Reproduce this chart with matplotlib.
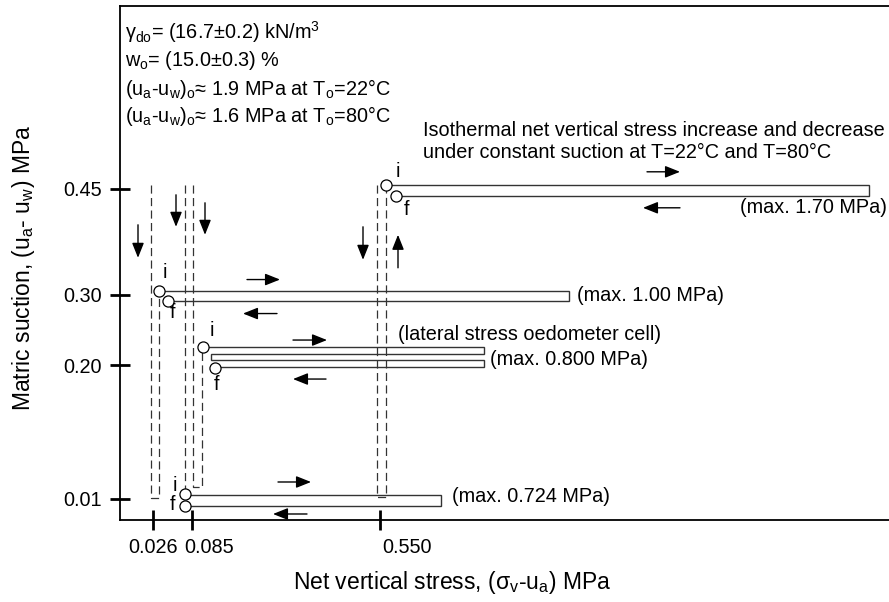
import numpy as np
import matplotlib
matplotlib.use('Agg')
import matplotlib.pyplot as plt
from matplotlib.transforms import ScaledTranslation

plt.rcParams['font.family'] = 'Liberation Sans'
plt.rcParams['mathtext.fontset'] = 'custom'
plt.rcParams['mathtext.rm'] = 'Liberation Sans'
plt.rcParams['mathtext.it'] = 'Liberation Sans:italic'

# axis ticks
x_ticks = [0.026, 0.085, 0.550]
x_tick_labels = ['0.026', '0.085', '0.550']
y_ticks = [0.01, 0.20, 0.30, 0.45]
y_tick_labels = ['0.01', '0.20', '0.30', '0.45']

# stress paths: suction level, start stress, max stress
suction = [0.45, 0.30, 0.20, 0.01]
start_stress = [0.550, 0.026, 0.085, 0.085]
max_stress = [1.70, 1.00, 0.800, 0.724]
max_labels = ['(max. 1.70 MPa)', '(max. 1.00 MPa)', '(max. 0.800 MPa)', '(max. 0.724 MPa)']

# schematic (not to scale) stress axis: stress -> pixels from left spine
knot_s = [-0.024, 0.026, 0.085, 0.550, 0.724, 0.800, 1.00, 1.70, 1.747]
knot_p = [0, 33, 72, 260, 321, 364, 449, 749, 769]

def fwd(s):
    return np.interp(s, knot_s, knot_p)

def inv(p):
    return np.interp(p, knot_p, knot_s)

fig = plt.figure(figsize=(8.89, 6.02), dpi=100)
ax = fig.add_axes([120/889, 1-520/602, 769/889, 514/602])
ax.set_xscale('function', functions=(fwd, inv))
ax.set_xlim(-0.024, 1.747)
ax.set_ylim(-0.0198, 0.7093)
ypp = (0.7093 + 0.0198) / 514.0

def pt(s, v, dx=0, dy=0):
    # offsets in pixels, dy positive downward
    return (inv(fwd(s) + dx), v - dy * ypp)

line_c = '#333333'
lw = 1.0

def path(pts):
    xs = [p[0] for p in pts]
    ys = [p[1] for p in pts]
    ax.plot(xs, ys, color=line_c, lw=lw, zorder=3, solid_joinstyle='miter')

def dpath(pts):
    xs = [p[0] for p in pts]
    ys = [p[1] for p in pts]
    ax.plot(xs, ys, color=line_c, lw=0.9, ls=(0, (6.5, 3.5)), zorder=2)

def circ(p):
    ax.plot(p[0], p[1], 'o', ms=8, mfc='white', mec='black', mew=0.9, zorder=5)

def arrow(a, b):
    ax.annotate('', xy=b, xytext=a,
                arrowprops=dict(arrowstyle='-|>,head_length=0.5,head_width=0.2',
                                color='black', lw=1.0, mutation_scale=18,
                                shrinkA=0, shrinkB=0))

fs = 14.3

def txt(p, s, ha='left', size=fs):
    ax.text(p[0], p[1], s, ha=ha, va='center', fontsize=size)

# level 0.45
s0, s1, v = start_stress[0], max_stress[0], suction[0]
path([pt(s0, v, 6, -4), pt(s1, v, 0, -4), pt(s1, v, 0, 7), pt(s0, v, 16, 7)])
circ(pt(s0, v, 6, -4)); circ(pt(s0, v, 16, 7))
txt(pt(s0, v, 18, -17), 'i', 'center'); txt(pt(s0, v, 26, 21), 'f', 'center')
arrow(pt(s0, v, 267, -17), pt(s0, v, 300, -17))
arrow(pt(s0, v, 300, 19), pt(s0, v, 263, 19))
txt(pt(s1, v, 18, 19), max_labels[0], 'right')

# level 0.30
s0, s1, v = start_stress[1], max_stress[1], suction[1]
path([pt(s0, v, 6, -4), pt(s1, v, 0, -4), pt(s1, v, 0, 6), pt(s0, v, 15, 6)])
circ(pt(s0, v, 6, -4)); circ(pt(s0, v, 15, 6))
txt(pt(s0, v, 12, -22), 'i', 'center'); txt(pt(s0, v, 19, 18), 'f', 'center')
arrow(pt(s0, v, 94, -15), pt(s0, v, 127, -15))
arrow(pt(s0, v, 124, 19), pt(s0, v, 90, 19))
txt(pt(s1, v, 8, 1), max_labels[1])

# level 0.20 (two cycles)
s0, s1, v = start_stress[2], max_stress[2], suction[2]
path([pt(s0, v, 11, -18), pt(s1, v, 0, -18), pt(s1, v, 0, -11), pt(s0, v, 19, -11),
      pt(s0, v, 19, -5), pt(s1, v, 0, -5), pt(s1, v, 0, 2), pt(s0, v, 23, 2)])
circ(pt(s0, v, 11, -18)); circ(pt(s0, v, 23, 3))
txt(pt(s0, v, 20, -35), 'i', 'center'); txt(pt(s0, v, 24, 19), 'f', 'center')
arrow(pt(s0, v, 101, -25), pt(s0, v, 135, -25))
arrow(pt(s0, v, 134, 14), pt(s0, v, 101, 14))
txt(pt(s0, v, 206, -31), '(lateral stress oedometer cell)')
txt(pt(s1, v, 6, -6), max_labels[2])

# level 0.01
s0, s1, v = start_stress[3], max_stress[3], suction[3]
path([pt(s0, v, -7, -4), pt(s1, v, 0, -4), pt(s1, v, 0, 7), pt(s0, v, -7, 7)])
circ(pt(s0, v, -7, -5)); circ(pt(s0, v, -7, 7))
txt(pt(s0, v, -17, -13), 'i', 'center'); txt(pt(s0, v, -19, 6), 'f', 'center')
arrow(pt(s0, v, 86, -17), pt(s0, v, 119, -17))
arrow(pt(s0, v, 115, 15), pt(s0, v, 81, 15))
txt(pt(s1, v, 11, -2), max_labels[3])

# suction change paths (dashed)
top = suction[0]
bot = suction[3]
dpath([pt(x_ticks[0], top, -2, -4), pt(x_ticks[0], bot, -2, -1),
       pt(x_ticks[0], bot, 6, -1), pt(x_ticks[0], suction[1], 6, 1)])
dpath([pt(x_ticks[1], top, -7, -4), pt(x_ticks[1], bot, -7, -10)])
dpath([pt(x_ticks[1], top, 1, -4), pt(x_ticks[1], bot, 1, -12),
       pt(x_ticks[1], bot, 10, -12), pt(x_ticks[1], suction[2], 10, -13)])
dpath([pt(x_ticks[2], top, -3, -4), pt(x_ticks[2], bot, -3, -2),
       pt(x_ticks[2], bot, 6, -2), pt(x_ticks[2], top, 6, 1)])

arrow(pt(x_ticks[0], top, -15, 36), pt(x_ticks[0], top, -15, 69))
arrow(pt(x_ticks[1], top, -16, 6), pt(x_ticks[1], top, -16, 38))
arrow(pt(x_ticks[1], top, 13, 14), pt(x_ticks[1], top, 13, 46))
arrow(pt(x_ticks[2], top, -17, 38), pt(x_ticks[2], top, -17, 71))
arrow(pt(x_ticks[2], top, 18, 79), pt(x_ticks[2], top, 18, 46))

# axes styling
for sp in ['left', 'bottom', 'top']:
    ax.spines[sp].set_linewidth(1.3)
ax.spines['right'].set_visible(False)
ax.set_xticks(x_ticks)
ax.set_xticklabels(x_tick_labels)
ax.set_yticks(y_ticks)
ax.set_yticklabels(y_tick_labels)
ax.minorticks_off()
ax.tick_params(direction='inout', length=14.4, width=2.0, labelsize=fs)
ax.tick_params(axis='y', pad=6)
ax.tick_params(axis='x', pad=6)
# x tick labels sit a little right of their ticks in the original
for lab, shift in zip(ax.get_xticklabels(), [0, 17, 27]):
    lab.set_transform(lab.get_transform() + ScaledTranslation(shift/100, 0, fig.dpi_scale_trans))

# annotations
def ftxt(x, y, s, size=fs):
    fig.text(x/889, 1-y/602, s, ha='left', va='center', fontsize=size)

ftxt(125, 32, r'γ$_\mathregular{do}$= (16.7±0.2) kN/m$^\mathregular{3}$')
ftxt(125, 61, r'w$_\mathregular{o}$= (15.0±0.3) %')
ftxt(125, 89, r'(u$_\mathregular{a}$-u$_\mathregular{w}$)$_\mathregular{o}$≈ 1.9 MPa at T$_\mathregular{o}$=22°C')
ftxt(125, 116, r'(u$_\mathregular{a}$-u$_\mathregular{w}$)$_\mathregular{o}$≈ 1.6 MPa at T$_\mathregular{o}$=80°C')
ftxt(423, 130, 'Isothermal net vertical stress increase and decrease')
ftxt(423, 152, 'under constant suction at T=22°C and T=80°C')

fig.text(452/889, 1-582/602, r'Net vertical stress, ($\mathregular{σ}_\mathregular{v}$-u$_\mathregular{a}$) MPa',
         ha='center', va='center', fontsize=16.5)
fig.text(24/889, 1-268/602, r'Matric suction, (u$_\mathregular{a}$- u$_\mathregular{w}$) MPa',
         ha='center', va='center', fontsize=16.5, rotation=90)

fig.savefig('out.png', dpi=100)
